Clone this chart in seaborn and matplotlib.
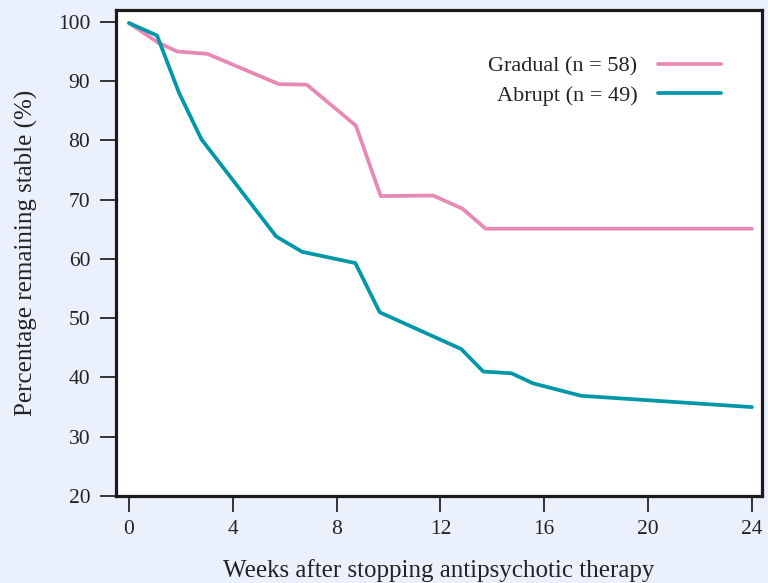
import matplotlib
matplotlib.use("Agg")
import matplotlib.pyplot as plt
import seaborn as sns
import pandas as pd

gradual_weeks = [0, 1.12, 1.86, 3.02, 5.77, 6.85, 8.74, 9.70, 11.71, 12.84, 13.74, 24]
gradual_pct = [99.8, 96.5, 95.0, 94.6, 89.5, 89.4, 82.5, 70.6, 70.7, 68.5, 65.1, 65.1]
abrupt_weeks = [0, 1.08, 1.93, 2.79, 5.67, 6.67, 8.72, 9.66, 12.80, 13.65, 14.74, 15.57, 17.43, 24]
abrupt_pct = [99.8, 97.7, 88.0, 80.2, 63.8, 61.2, 59.3, 51.0, 44.8, 41.0, 40.7, 39.0, 36.9, 35.0]
labels = ["Gradual (n = 58)", "Abrupt (n = 49)"]
x_ticks = [0, 4, 8, 12, 16, 20, 24]
y_ticks = [20, 30, 40, 50, 60, 70, 80, 90, 100]

df = pd.concat([
    pd.DataFrame({"week": gradual_weeks, "pct": gradual_pct, "group": labels[0]}),
    pd.DataFrame({"week": abrupt_weeks, "pct": abrupt_pct, "group": labels[1]}),
], ignore_index=True)

sns.set_theme(style="white")
plt.rcParams["font.family"] = ["Liberation Serif", "DejaVu Serif"]
bg = "#ebf1fc"
fig = plt.figure(figsize=(7.68, 5.83), dpi=100, facecolor=bg)
ax = fig.add_axes([116 / 768, 87 / 583, 646.3 / 768, 486 / 583])
ax.set_facecolor("white")

sns.lineplot(data=df, x="week", y="pct", hue="group", hue_order=labels,
             palette=["#e889b5", "#0097a8"], linewidth=2.7, sort=False,
             estimator=None, ax=ax)

ax.set_xlim(-0.5, 24.4)
ax.set_ylim(20, 102)
ax.set_xticks(x_ticks)
ax.set_yticks(y_ticks)
ax.tick_params(axis="both", which="major", labelsize=15.5, length=11.5, width=1.4,
               color="#333333", labelcolor="#222222", left=True, bottom=True)
ax.tick_params(axis="x", pad=6)
ax.tick_params(axis="y", pad=7)
for s in ax.spines.values():
    s.set_linewidth(2.3)
    s.set_color("#1a1a1a")

ax.set_xlabel("Weeks after stopping antipsychotic therapy", fontsize=18, color="#222222", labelpad=14)
ax.set_ylabel("Percentage remaining stable (%)", fontsize=18, color="#222222", labelpad=14)

leg = ax.legend(loc="upper right", bbox_to_anchor=(0.936, 0.905), frameon=False,
                markerfirst=False, handlelength=2.85, handletextpad=0.9,
                labelspacing=0.4, borderpad=0, borderaxespad=0,
                fontsize=16, title=None)
for t in leg.get_texts():
    t.set_color("#222222")
for h in leg.get_lines():
    h.set_linewidth(2.7)

fig.savefig("out.png", dpi=100, facecolor=bg)
